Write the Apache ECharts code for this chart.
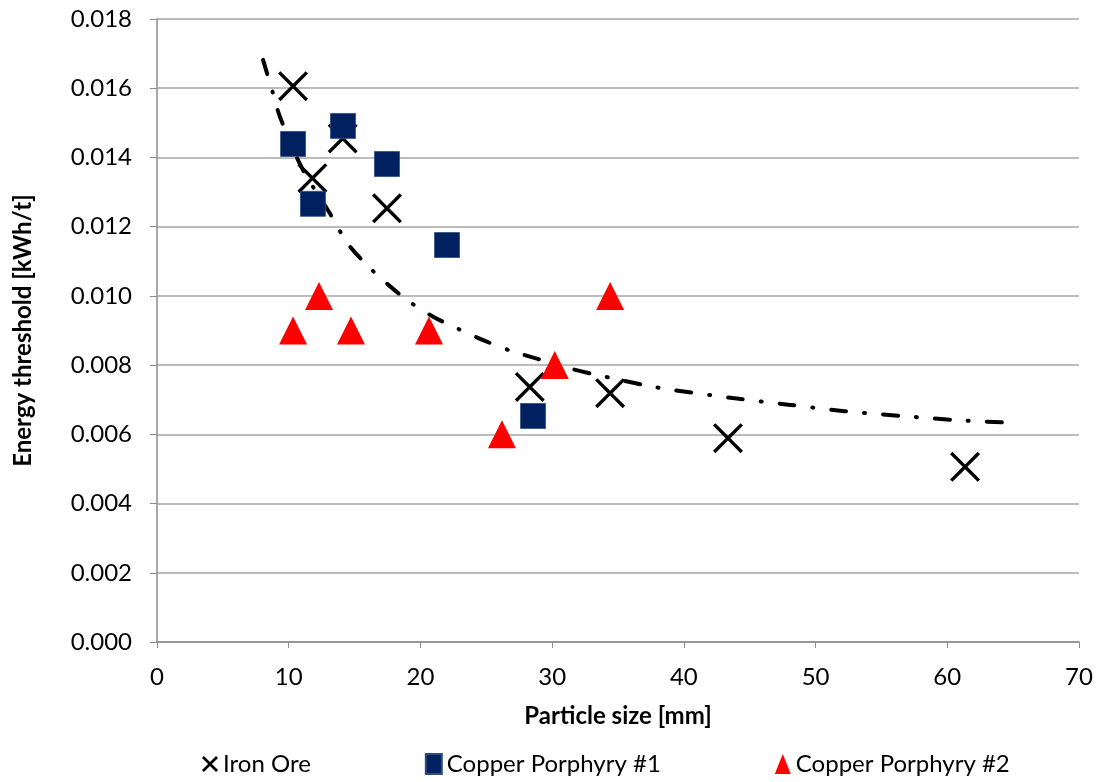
<!DOCTYPE html>
<html>
<head>
<meta charset="utf-8">
<script src="https://cdn.jsdelivr.net/npm/echarts@6/dist/echarts.min.js"></script>
<style>
  html, body { margin: 0; padding: 0; background: #fff; }
  #main { width: 1099px; height: 782px; }
</style>
</head>
<body>
<div id="main"></div>
<script>
// particle size [mm] / energy threshold [kWh/t]
const ironX = [10.33, 11.8, 14.1, 17.46, 28.3, 34.4, 43.35, 61.35]
const ironY = [0.01606, 0.0134, 0.01455, 0.01253, 0.00737, 0.00719, 0.00589, 0.00506]
const cu1X = [10.33, 11.84, 14.12, 17.46, 22.02, 28.55]
const cu1Y = [0.01439, 0.01266, 0.01491, 0.01381, 0.01147, 0.00653]
const cu2X = [10.33, 12.3, 14.73, 20.65, 26.19, 30.2, 34.4]
const cu2Y = [0.009, 0.010, 0.009, 0.009, 0.006, 0.008, 0.010]
// trend line
const trendX = [8.05, 8.8, 9.34, 11.0, 13.1, 14.5, 15.94, 17.5, 19.2, 21.0, 22.9, 24.9, 26.95, 28.9, 31.2, 33.1, 35.2, 37.3, 39.2, 43.7, 48.1, 52.2, 56.6, 60.7, 65.1]
const trendY = [0.01682, 0.01586, 0.01517, 0.0137, 0.0124, 0.0115, 0.01089, 0.01034, 0.00982, 0.00939, 0.00904, 0.0087, 0.0084, 0.00818, 0.00792, 0.00774, 0.00757, 0.0074, 0.00728, 0.00705, 0.00685, 0.00667, 0.00653, 0.00641, 0.00633]

const zip = (xs, ys) => xs.map((x, i) => [x, ys[i]])
const crossPath = 'path://M0 8L8 0L50 42L92 0L100 8L58 50L100 92L92 100L50 58L8 100L0 92L42 50Z'
const legendCross = 'path://M0 12L12 0L50 38L88 0L100 12L62 50L100 88L88 100L50 62L12 100L0 88L38 50Z'
const font = 'Lato, "Open Sans", sans-serif'

const chart = echarts.init(document.getElementById('main'), null, { renderer: 'canvas' })
chart.setOption({
  animation: false,
  backgroundColor: '#fff',
  textStyle: { fontFamily: font },
  grid: { left: 157, right: 20, top: 19, bottom: 140 },
  legend: {
    left: 197,
    bottom: 1,
    itemGap: 114,
    itemWidth: 16,
    itemHeight: 20,
    textStyle: { fontSize: 24, color: '#000', fontFamily: font },
    data: [
      { name: 'Iron Ore', icon: legendCross },
      { name: 'Copper Porphyry #1', icon: 'rect' },
      { name: 'Copper Porphyry #2', icon: 'triangle' }
    ]
  },
  xAxis: {
    type: 'value',
    min: 0,
    max: 70,
    interval: 10,
    name: 'Particle size [mm]',
    nameLocation: 'middle',
    nameGap: 62,
    nameTextStyle: { fontSize: 24, fontWeight: 'bold', color: '#000' },
    axisLine: { lineStyle: { color: '#8c8c8c', width: 1.5 } },
    axisTick: { show: true, length: 6, lineStyle: { color: '#8c8c8c' } },
    axisLabel: { fontSize: 24, color: '#000', margin: 23 },
    splitLine: { show: false }
  },
  yAxis: {
    type: 'value',
    min: 0,
    max: 0.018,
    interval: 0.002,
    name: 'Energy threshold [kWh/t]',
    nameLocation: 'middle',
    nameGap: 122,
    nameTextStyle: { fontSize: 24, fontWeight: 'bold', color: '#000' },
    axisLine: { show: true, lineStyle: { color: '#8c8c8c', width: 1.5 } },
    axisTick: { show: true, length: 7, lineStyle: { color: '#8c8c8c' } },
    axisLabel: { fontSize: 24, color: '#000', margin: 25, formatter: v => v.toFixed(3) },
    splitLine: { show: true, lineStyle: { color: '#a6a6a6', width: 1.5 } }
  },
  series: [
    {
      name: 'Trend',
      type: 'line',
      z: 1,
      smooth: 0.3,
      showSymbol: false,
      lineStyle: { color: '#000', width: 4, type: [15, 18, 1, 18], cap: 'round' },
      data: zip(trendX, trendY)
    },
    {
      name: 'Iron Ore',
      type: 'scatter',
      z: 2,
      symbol: crossPath,
      symbolSize: 30,
      itemStyle: { color: '#000', opacity: 1 },
      data: zip(ironX, ironY)
    },
    {
      name: 'Copper Porphyry #1',
      type: 'scatter',
      z: 3,
      symbol: 'rect',
      symbolSize: 25,
      itemStyle: { color: '#002060', borderColor: '#2f4d7e', borderWidth: 0.8, opacity: 1 },
      data: zip(cu1X, cu1Y)
    },
    {
      name: 'Copper Porphyry #2',
      type: 'scatter',
      z: 4,
      symbol: 'triangle',
      symbolSize: 28,
      itemStyle: { color: '#ff0000', opacity: 1 },
      data: zip(cu2X, cu2Y)
    }
  ]
})
</script>
</body>
</html>
